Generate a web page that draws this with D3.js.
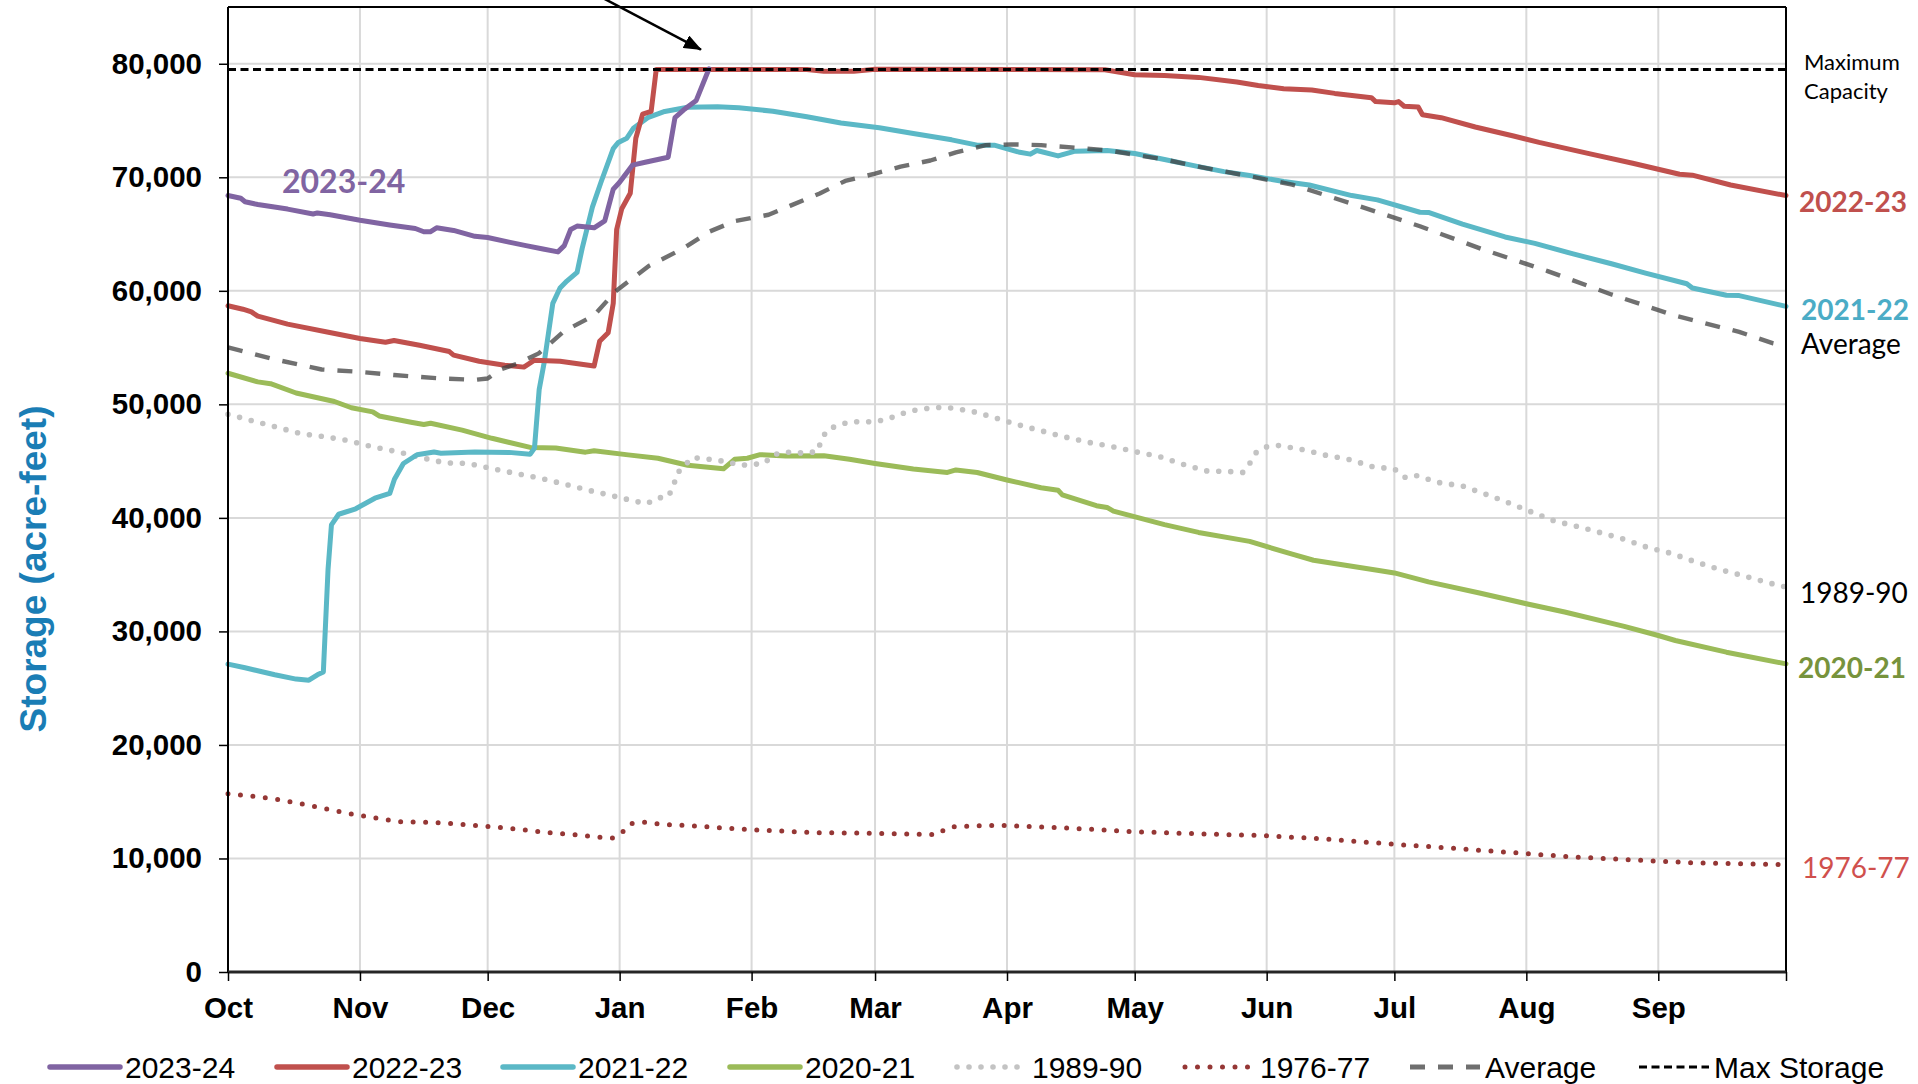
<!DOCTYPE html>
<html><head><meta charset="utf-8">
<script src="https://cdn.jsdelivr.net/npm/d3@7"></script>
<style>body{margin:0;background:#fff}svg{display:block}</style>
</head><body>
<svg id="chart" width="1918" height="1084"></svg>
<script>
// ---------------- DATA ----------------
const monthLabels = ["Oct","Nov","Dec","Jan","Feb","Mar","Apr","May","Jun","Jul","Aug","Sep"];
const yTickValues = [0,10000,20000,30000,40000,50000,60000,70000,80000];
const maxStorage = 79500;
// [day of water year (0 = Oct 1), storage in acre-feet]
const s2324 = [[0,68400],[3,68150],[4,67850],[7,67600],[14,67200],[20,66770],[21,66860],[24,66700],[31,66220],[38,65800],[44,65490],[46,65200],[47.5,65200],[49,65550],[53,65320],[58,64800],[61,64700],[66,64290],[70,63980],[74,63680],[77.5,63430],[79,63980],[80.5,65400],[82,65700],[86,65550],[88.5,66160],[90.5,68950],[92,69560],[95,71070],[98,71320],[103.4,71770],[105,75260],[107,75920],[110,76770],[113,79560]];
const s2223 = [[0,58680],[3.5,58380],[5.5,58140],[7,57770],[14,57070],[23,56400],[31,55800],[37,55470],[39,55620],[45,55200],[52,54650],[53,54340],[59,53800],[65,53440],[69.5,53280],[72,53890],[78,53800],[86,53370],[87.3,55550],[89.3,56310],[90.5,58890],[91.3,65400],[92.5,67230],[94.5,68590],[95.8,73440],[97.4,75560],[99.4,75800],[100.6,79500],[136,79500],[140,79330],[147,79330],[152,79520],[206,79480],[213,79030],[220,78960],[228,78800],[237,78400],[242,78080],[248,77800],[254.6,77690],[260,77390],[268.6,77015],[269.6,76670],[274,76560],[275,76670],[276.3,76260],[279.6,76190],[280.6,75510],[285,75250],[293,74430],[302,73640],[308,73075],[320,72060],[330,71235],[341,70265],[344,70185],[353,69325],[366,68390]];
const s2122 = [[0,27120],[4,26800],[11,26180],[16,25800],[19,25700],[21,26180],[22.4,26430],[23.5,35450],[24.3,39380],[26,40320],[30,40800],[34.5,41730],[38,42150],[39.1,43400],[41.2,44790],[44.4,45560],[48.4,45800],[50,45700],[58,45800],[66,45770],[71,45610],[72,46150],[73.1,51310],[74.3,53730],[76.3,58890],[78,60250],[79.6,60860],[82,61620],[83.2,63740],[85.6,67370],[87.7,69650],[90.5,72530],[91.7,73070],[93.7,73440],[95.3,74350],[98.6,75250],[102.6,75800],[108,76170],[115,76220],[120,76120],[128,75820],[136,75340],[144,74780],[153,74370],[161,73860],[170,73300],[176,72830],[180,72830],[186,72200],[188.5,72040],[190,72360],[195,71880],[199,72300],[206.5,72360],[213,72100],[220,71570],[228,70940],[234,70500],[240,70150],[248,69625],[254,69325],[264,68390],[270,68010],[280,66920],[282,66900],[290,65870],[300,64745],[307,64180],[316,63250],[325,62385],[333,61560],[342.7,60625],[344,60250],[352,59615],[355,59580],[366,58635]];
const s2021 = [[0,52740],[7,51980],[10,51820],[16,51000],[25,50250],[29,49700],[34,49340],[35.5,48980],[43,48430],[46,48220],[47.6,48340],[55,47730],[62,47010],[71,46210],[77,46150],[84,45790],[86,45910],[94,45550],[101,45250],[108,44640],[116.4,44320],[119,45160],[122,45250],[125,45570],[131,45450],[140,45470],[146,45160],[152,44790],[161,44310],[169,44000],[171,44220],[176,44000],[183,43340],[191,42650],[195,42430],[196,42030],[204,41070],[206.5,40920],[208,40600],[220,39410],[228,38720],[240,37930],[250,36800],[255,36270],[270,35380],[274,35150],[282,34360],[294,33380],[305,32440],[314,31710],[328,30440],[336,29640],[340,29200],[352,28170],[366,27140]];
const s8990 = [[0,49130],[6,48520],[11.6,47975],[17,47430],[23,47130],[28,46825],[34,46250],[39.5,45855],[45,45335],[51,44850],[56.5,44790],[62,44340],[68,43885],[73.5,43485],[79,42975],[84.4,42460],[90,41975],[95.7,41460],[98.4,41250],[101,41760],[103.4,41850],[104.7,42825],[105.4,43885],[107.5,44700],[109,45310],[114.7,45095],[117.6,44900],[120.5,44630],[126,44790],[128,45545],[131,45795],[136,45695],[138.6,45890],[139.4,46955],[141,47835],[146,48465],[152,48465],[155,48715],[160,49410],[166,49725],[169,49725],[174.6,49410],[180,48845],[185.5,48215],[191,47675],[196.4,47145],[202.3,46645],[207.8,46270],[213.6,45795],[219,45385],[224.5,44695],[230,44130],[236,44070],[238.4,44005],[240.1,44850],[241.6,45795],[244,46260],[247,46375],[252.6,46000],[258,45510],[263.6,45130],[269,44500],[274,44305],[276.6,43555],[279,43740],[284.6,43105],[290,42810],[295.6,42060],[301,41305],[306,40555],[311.6,39730],[317,39245],[322.6,38680],[328,38115],[333.7,37370],[339,36885],[344.7,36130],[350,35495],[355.7,34930],[361,34365],[366,33900]];
const s7677 = [[0,15700],[6,15485],[12,15175],[18,14765],[23.6,14320],[29,13920],[35,13540],[41,13220],[47,13195],[52,13100],[58,12905],[64,12720],[70,12500],[76,12245],[81.5,12095],[87.4,11875],[90.3,11805],[92.7,12340],[94.5,13065],[97.5,13195],[103,12975],[109,12880],[115,12720],[123,12525],[138,12280],[152,12220],[163.7,12130],[166.6,12080],[169,12740],[172,12830],[180.6,12925],[189,12800],[200.7,12615],[212,12370],[229,12155],[244,12005],[258,11700],[272,11305],[287,10915],[301,10540],[315.5,10140],[330,9870],[344,9620],[364,9470],[366,9450]];
const sAvg = [[0,55010],[10,54040],[22,53070],[30,52890],[39,52580],[50,52280],[58,52160],[61,52280],[64,53070],[68,53590],[73,54490],[79,56460],[86,57830],[91,59950],[99,62220],[107,63740],[113,65200],[119,66135],[127,66700],[132,67480],[139,68580],[145,69680],[152,70320],[158,70940],[165,71480],[171,72200],[178,72830],[184,72900],[191,72830],[199,72610],[207,72360],[213,71980],[220,71570],[228,70940],[239,70160],[250,69360],[265,67560],[280,65690],[295,63620],[310,61740],[325,59680],[340,57810],[355,56380],[363,55370],[366,55150]];
// annotation arrow ends: [day, value]
const arrowFrom = [87, 86000];
const arrowTo = [111.1, 81250];

// ---------------- STYLE / CONFIG ----------------
const seriesConfig = [
  {name:"1976-77", data:s7677, color:"#953735", width:5, dash:"0 12.5", cap:"round"},
  {name:"2020-21", data:s2021, color:"#9bbb59", width:5, dash:null, cap:"round"},
  {name:"1989-90", data:s8990, color:"#c3c3c3", width:5.6, dash:"0 12", cap:"round"},
  {name:"2021-22", data:s2122, color:"#5bb8c6", width:5, dash:null, cap:"round"},
  {name:"2022-23", data:s2223, color:"#c0504d", width:5, dash:null, cap:"round"},
  {name:"2023-24", data:s2324, color:"#8064a2", width:5, dash:null, cap:"round"},
  {name:"Average", data:sAvg, color:"#404040", width:4.4, dash:"15 13", cap:"butt", opacity:0.75}
];

const W = 1918, H = 1084;
const M = {left:228, right:1786, top:7, bottom:972};
const start = new Date(2023, 9, 1), end = new Date(2024, 9, 1);
const dayDate = d => new Date(start.getTime() + d * 86400000);
const x = d3.scaleTime().domain([start, end]).range([M.left, M.right]);
const y = d3.scaleLinear().domain([0, 85000]).range([M.bottom, M.top]);
const monthStarts = d3.timeMonth.range(start, end);

const svg = d3.select("#chart");
const arial = "'Liberation Sans', Arial, sans-serif";
const calibri = "Lato, 'Open Sans', sans-serif";

// gridlines
const grid = svg.append("g");
grid.selectAll(".hg").data(yTickValues.filter(v => v > 0)).join("line")
  .attr("x1", M.left).attr("x2", M.right)
  .attr("y1", d => y(d)).attr("y2", d => y(d))
  .attr("stroke", "#d9d9d9").attr("stroke-width", 2);
grid.selectAll(".vg").data(monthStarts.slice(1)).join("line")
  .attr("x1", d => x(d)).attr("x2", d => x(d))
  .attr("y1", M.top).attr("y2", M.bottom)
  .attr("stroke", "#d9d9d9").attr("stroke-width", 2);

// series
const line = d3.line().x(d => x(dayDate(d[0]))).y(d => y(d[1]));
seriesConfig.forEach(s => {
  svg.append("path").datum(s.data)
    .attr("d", line)
    .attr("fill", "none")
    .attr("stroke", s.color)
    .attr("stroke-width", s.width)
    .attr("stroke-linecap", s.cap)
    .attr("stroke-linejoin", "round")
    .attr("stroke-dasharray", s.dash)
    .attr("opacity", s.opacity || 1);
});

// max storage line
svg.append("line")
  .attr("x1", M.left).attr("x2", M.right)
  .attr("y1", y(maxStorage)).attr("y2", y(maxStorage))
  .attr("stroke", "#000").attr("stroke-width", 3).attr("stroke-dasharray", "8 4.5");

// frame top/right
svg.append("line").attr("x1", M.left).attr("x2", M.right).attr("y1", M.top).attr("y2", M.top)
  .attr("stroke", "#000").attr("stroke-width", 2);
svg.append("line").attr("x1", M.right).attr("x2", M.right).attr("y1", M.top).attr("y2", M.bottom)
  .attr("stroke", "#000").attr("stroke-width", 2);

// axes
const yAxis = svg.append("g").attr("transform", `translate(${M.left},0)`)
  .call(d3.axisLeft(y).tickValues(yTickValues).tickSize(9).tickPadding(17).tickFormat(d3.format(",")));
yAxis.select(".domain").attr("stroke", "#000").attr("stroke-width", 2).attr("d", `M0,${M.top}V${M.bottom}`);
yAxis.selectAll(".tick line").attr("stroke", "#000").attr("stroke-width", 1.5);
yAxis.selectAll(".tick text").attr("font-family", arial).attr("font-weight", "bold")
  .attr("font-size", 29.5).attr("fill", "#000");

const xTicks = monthStarts.concat([end]);
const xAxis = svg.append("g").attr("transform", `translate(0,${M.bottom})`)
  .call(d3.axisBottom(x).tickValues(xTicks).tickSize(9).tickPadding(16)
    .tickFormat((d, i) => i < monthLabels.length ? monthLabels[i] : ""));
xAxis.select(".domain").attr("stroke", "#262626").attr("stroke-width", 3).attr("d", `M${M.left},0H${M.right}`);
xAxis.selectAll(".tick line").attr("stroke", "#000").attr("stroke-width", 1.5);
xAxis.selectAll(".tick text").attr("font-family", arial).attr("font-weight", "bold")
  .attr("font-size", 29.5).attr("fill", "#000");

// y title
svg.append("text")
  .attr("transform", "translate(33,569) rotate(-90)")
  .attr("text-anchor", "middle").attr("dominant-baseline", "central")
  .attr("font-family", arial).attr("font-weight", "bold").attr("font-size", 37)
  .attr("fill", "#1a7db5").text("Storage (acre-feet)");

// arrow annotation
const defs = svg.append("defs");
defs.append("marker").attr("id", "arr").attr("markerUnits", "userSpaceOnUse")
  .attr("markerWidth", 18).attr("markerHeight", 14).attr("refX", 17).attr("refY", 7)
  .attr("orient", "auto")
  .append("path").attr("d", "M0,0L18,7L0,14Z").attr("fill", "#000");
svg.append("line")
  .attr("x1", x(dayDate(arrowFrom[0]))).attr("y1", y(arrowFrom[1]))
  .attr("x2", x(dayDate(arrowTo[0]))).attr("y2", y(arrowTo[1]))
  .attr("stroke", "#000").attr("stroke-width", 2.5).attr("marker-end", "url(#arr)");

// in-plot label
svg.append("text").attr("x", 282).attr("y", 193)
  .attr("font-family", calibri).attr("font-weight", "bold").attr("font-size", 32)
  .attr("fill", "#8064a2").text("2023-24");

// right labels
const rl = [
  {t:"Maximum", x:1804, y:70, size:22, w:"normal", c:"#000"},
  {t:"Capacity", x:1804, y:99, size:22, w:"normal", c:"#000"},
  {t:"2022-23", x:1799, y:212, size:28, w:"bold", c:"#c0504d"},
  {t:"2021-22", x:1801, y:320, size:28, w:"bold", c:"#4bacc6"},
  {t:"Average", x:1801, y:354, size:28, w:"normal", c:"#000"},
  {t:"1989-90", x:1800, y:603, size:28, w:"normal", c:"#000"},
  {t:"2020-21", x:1798, y:678, size:28, w:"bold", c:"#77933c"},
  {t:"1976-77", x:1802, y:878, size:28, w:"normal", c:"#d0504d"}
];
svg.append("g").selectAll("text").data(rl).join("text")
  .attr("x", d => d.x).attr("y", d => d.y)
  .attr("font-family", calibri).attr("font-size", d => d.size).attr("font-weight", d => d.w)
  .attr("fill", d => d.c).text(d => d.t);

// legend
const legendItems = [
  {name:"2023-24", color:"#8064a2", width:5.5, dash:null, cap:"round", x:50, len:70},
  {name:"2022-23", color:"#c0504d", width:5.5, dash:null, cap:"round", x:277, len:70},
  {name:"2021-22", color:"#5bb8c6", width:5.5, dash:null, cap:"round", x:503, len:70},
  {name:"2020-21", color:"#9bbb59", width:5.5, dash:null, cap:"round", x:730, len:70},
  {name:"1989-90", color:"#c3c3c3", width:5.6, dash:"0 12", cap:"round", x:957, len:66},
  {name:"1976-77", color:"#953735", width:5, dash:"0 12.5", cap:"round", x:1185, len:66},
  {name:"Average", color:"#404040", width:5, dash:"15 13", cap:"butt", x:1410, len:70, opacity:0.75},
  {name:"Max Storage", color:"#000", width:3, dash:"8 4.5", cap:"butt", x:1639, len:70}
];
const lg = svg.append("g").attr("transform", "translate(0,1067)");
legendItems.forEach(d => {
  lg.append("line").attr("x1", d.x).attr("x2", d.x + d.len).attr("y1", 0).attr("y2", 0)
    .attr("stroke", d.color).attr("stroke-width", d.width).attr("stroke-linecap", d.cap)
    .attr("stroke-dasharray", d.dash).attr("opacity", d.opacity || 1);
  lg.append("text").attr("x", d.x + 75).attr("y", 10.5)
    .attr("font-family", arial).attr("font-size", 30).attr("fill", "#000").text(d.name);
});
</script>
</body></html>
